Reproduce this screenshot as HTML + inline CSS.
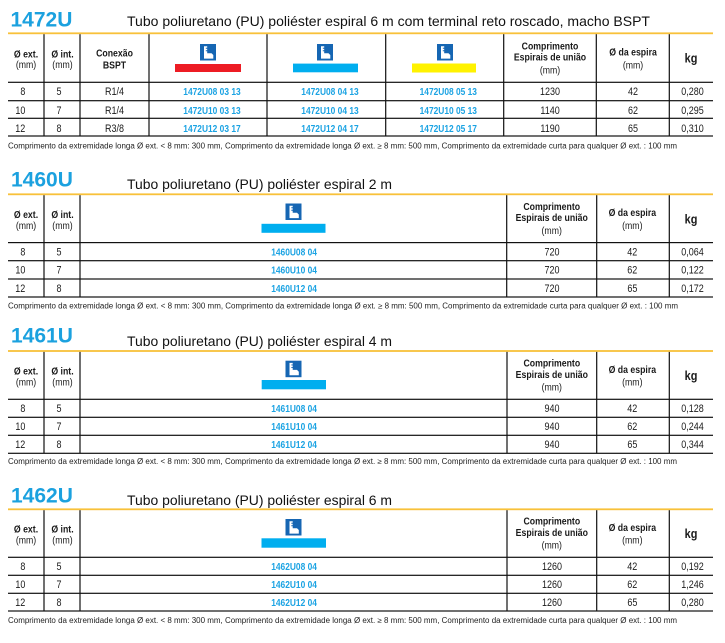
<!DOCTYPE html>
<html><head><meta charset="utf-8">
<style>
html,body{margin:0;padding:0;background:#fff;}
svg{display:block;}
text{font-family:"Liberation Sans",Arial,sans-serif;fill:#1a1a1a;}
.n{transform-box:fill-box;transform-origin:center;transform:scaleX(.84);}
.e{transform-box:fill-box;transform-origin:right center;transform:scaleX(.84);}
.hb{font-weight:bold;font-size:10.4px;text-anchor:middle;}
.hr{font-size:10.4px;text-anchor:middle;}
.kg{font-weight:bold;font-size:13px;text-anchor:middle;}
.d{font-size:10.7px;text-anchor:middle;}
.de{font-size:10.7px;text-anchor:end;}
.c{font-weight:bold;font-size:10px;text-anchor:middle;fill:#1ba3e3;}
.ti{font-weight:bold;font-size:21px;fill:#1ba1df;}
.st{font-size:14px;fill:#111;}
.fn{font-size:7.8px;fill:#222;}
</style></head><body>
<svg width="725" height="643" viewBox="0 0 725 643" xmlns="http://www.w3.org/2000/svg">
<defs>
<g id="ic">
<rect x="0" y="0" width="16" height="16.5" fill="#1666b3"/>
<path d="M4 2.2h3.2v1.6h-1.4v0.9h1.4v1.6h-1.4v0.9h1.4v2h4.3l1.8 1.8v3.6h-9.3z" fill="#fff"/>
</g>
</defs>

<!-- ============ Section 1 ============ -->
<text class="ti" x="10.5" y="26.7">1472U</text>
<text class="st" x="127" y="26" textLength="523" lengthAdjust="spacingAndGlyphs">Tubo poliuretano (PU) poliéster espiral 6 m com terminal reto roscado, macho BSPT</text>
<g transform="translate(0,33.3)">
<rect x="8" y="-0.9" width="705" height="1.8" fill="#f8c13a"/>
<rect x="8" y="48.4" width="705" height="1.2" fill="#111"/>
<rect x="8" y="66.8" width="705" height="1.2" fill="#111"/>
<rect x="8" y="84.4" width="705" height="1.2" fill="#111"/>
<rect x="8" y="102.1" width="705" height="1.2" fill="#111"/>
<rect x="43.4" y="0.9" width="1.2" height="101.8" fill="#111"/>
<rect x="79.4" y="0.9" width="1.2" height="101.8" fill="#111"/>
<rect x="148.4" y="0.9" width="1.2" height="101.8" fill="#111"/>
<rect x="266.4" y="0.9" width="1.2" height="101.8" fill="#111"/>
<rect x="385.1" y="0.9" width="1.2" height="101.8" fill="#111"/>
<rect x="503.1" y="0.9" width="1.2" height="101.8" fill="#111"/>
<rect x="595.7" y="0.9" width="1.2" height="101.8" fill="#111"/>
<rect x="668.7" y="0.9" width="1.2" height="101.8" fill="#111"/>

<text class="hb n" x="26" y="24">Ø ext.</text>
<text class="hr n" x="26" y="34.8">(mm)</text>
<text class="hb n" x="62.5" y="24">Ø int.</text>
<text class="hr n" x="62.5" y="34.8">(mm)</text>
<text class="hb n" x="114.5" y="23.4">Conexão</text>
<text class="hb n" x="114.5" y="35.4">BSPT</text>
<use href="#ic" x="200" y="10.7"/>
<rect x="175" y="30.7" width="66" height="8" fill="#ed1c24"/>
<use href="#ic" x="317" y="10.7"/>
<rect x="293" y="30.3" width="65" height="8.7" fill="#00aeef"/>
<use href="#ic" x="437" y="10.7"/>
<rect x="412" y="30.2" width="64" height="9" fill="#fff200"/>
<text class="hb n" x="550" y="16.2">Comprimento</text>
<text class="hb n" x="550" y="27.3">Espirais de união</text>
<text class="hr n" x="550" y="40.3">(mm)</text>
<text class="hb n" x="633" y="22.2">Ø da espira</text>
<text class="hr n" x="633" y="35">(mm)</text>
<text class="kg n" x="691" y="29">kg</text>

<text class="de e" x="25.3" y="61.8">8</text>
<text class="d n" x="59" y="61.8">5</text>
<text class="d n" x="114.5" y="61.8">R1/4</text>
<text class="c n" x="212" y="61.8">1472U08 03 13</text>
<text class="c n" x="330" y="61.8">1472U08 04 13</text>
<text class="c n" x="448.3" y="61.8">1472U08 05 13</text>
<text class="d n" x="550" y="61.8">1230</text>
<text class="d n" x="633" y="61.8">42</text>
<text class="d n" x="692.5" y="61.8">0,280</text>

<text class="de e" x="25.3" y="80.7">10</text>
<text class="d n" x="59" y="80.7">7</text>
<text class="d n" x="114.5" y="80.7">R1/4</text>
<text class="c n" x="212" y="80.7">1472U10 03 13</text>
<text class="c n" x="330" y="80.7">1472U10 04 13</text>
<text class="c n" x="448.3" y="80.7">1472U10 05 13</text>
<text class="d n" x="550" y="80.7">1140</text>
<text class="d n" x="633" y="80.7">62</text>
<text class="d n" x="692.5" y="80.7">0,295</text>

<text class="de e" x="25.3" y="98.5">12</text>
<text class="d n" x="59" y="98.5">8</text>
<text class="d n" x="114.5" y="98.5">R3/8</text>
<text class="c n" x="212" y="98.5">1472U12 03 17</text>
<text class="c n" x="330" y="98.5">1472U12 04 17</text>
<text class="c n" x="448.3" y="98.5">1472U12 05 17</text>
<text class="d n" x="550" y="98.5">1190</text>
<text class="d n" x="633" y="98.5">65</text>
<text class="d n" x="692.5" y="98.5">0,310</text>
</g>
<text class="fn" x="8" y="148.5" textLength="669" lengthAdjust="spacingAndGlyphs">Comprimento da extremidade longa Ø ext. &lt; 8 mm: 300 mm, Comprimento da extremidade longa Ø ext. ≥ 8 mm: 500 mm, Comprimento da extremidade curta para qualquer Ø ext. : 100 mm</text>

<!-- ============ Section 2 ============ -->
<text class="ti" x="11" y="186.7">1460U</text>
<text class="st" x="127" y="189" textLength="265" lengthAdjust="spacingAndGlyphs">Tubo poliuretano (PU) poliéster espiral 2 m</text>
<g transform="translate(0,194.3)">
<rect x="8" y="-0.9" width="705" height="1.8" fill="#f8c13a"/>
<rect x="8" y="47.7" width="705" height="1.2" fill="#111"/>
<rect x="8" y="65.8" width="705" height="1.2" fill="#111"/>
<rect x="8" y="84.1" width="705" height="1.2" fill="#111"/>
<rect x="8" y="102.1" width="705" height="1.2" fill="#111"/>
<rect x="43.4" y="0.9" width="1.2" height="101.8" fill="#111"/>
<rect x="79.4" y="0.9" width="1.2" height="101.8" fill="#111"/>
<rect x="506.1" y="0.9" width="1.2" height="101.8" fill="#111"/>
<rect x="596.1" y="0.9" width="1.2" height="101.8" fill="#111"/>
<rect x="668.7" y="0.9" width="1.2" height="101.8" fill="#111"/>
<text class="hb n" x="26" y="23.5">Ø ext.</text>
<text class="hr n" x="26" y="34.5">(mm)</text>
<text class="hb n" x="62.5" y="23.5">Ø int.</text>
<text class="hr n" x="62.5" y="34.5">(mm)</text>
<use href="#ic" x="285.5" y="9.2"/>
<rect x="261.5" y="29.5" width="64" height="9" fill="#00aeef"/>
<text class="hb n" x="551.7" y="15.6">Comprimento</text>
<text class="hb n" x="551.7" y="26.8">Espirais de união</text>
<text class="hr n" x="551.7" y="39.7">(mm)</text>
<text class="hb n" x="632.3" y="21.8">Ø da espira</text>
<text class="hr n" x="632.3" y="34.7">(mm)</text>
<text class="kg n" x="691" y="29">kg</text>

<text class="de e" x="25.3" y="61.2">8</text>
<text class="d n" x="59" y="61.2">5</text>
<text class="c n" x="294" y="61.2">1460U08 04</text>
<text class="d n" x="552" y="61.2">720</text>
<text class="d n" x="632.3" y="61.2">42</text>
<text class="d n" x="692.5" y="61.2">0,064</text>

<text class="de e" x="25.3" y="79.4">10</text>
<text class="d n" x="59" y="79.4">7</text>
<text class="c n" x="294" y="79.4">1460U10 04</text>
<text class="d n" x="552" y="79.4">720</text>
<text class="d n" x="632.3" y="79.4">62</text>
<text class="d n" x="692.5" y="79.4">0,122</text>

<text class="de e" x="25.3" y="97.5">12</text>
<text class="d n" x="59" y="97.5">8</text>
<text class="c n" x="294" y="97.5">1460U12 04</text>
<text class="d n" x="552" y="97.5">720</text>
<text class="d n" x="632.3" y="97.5">65</text>
<text class="d n" x="692.5" y="97.5">0,172</text>
</g>
<text class="fn" x="8" y="308.3" textLength="670" lengthAdjust="spacingAndGlyphs">Comprimento da extremidade longa Ø ext. &lt; 8 mm: 300 mm, Comprimento da extremidade longa Ø ext. ≥ 8 mm: 500 mm, Comprimento da extremidade curta para qualquer Ø ext.  : 100 mm</text>

<!-- ============ Section 3 ============ -->
<text class="ti" x="11" y="342.7">1461U</text>
<text class="st" x="127" y="346" textLength="265" lengthAdjust="spacingAndGlyphs">Tubo poliuretano (PU) poliéster espiral 4 m</text>
<g transform="translate(0,351)">
<rect x="8" y="-0.9" width="705" height="1.8" fill="#f8c13a"/>
<rect x="8" y="47.7" width="705" height="1.2" fill="#111"/>
<rect x="8" y="65.7" width="705" height="1.2" fill="#111"/>
<rect x="8" y="83.7" width="705" height="1.2" fill="#111"/>
<rect x="8" y="101.7" width="705" height="1.2" fill="#111"/>
<rect x="43.4" y="0.9" width="1.2" height="101.4" fill="#111"/>
<rect x="79.4" y="0.9" width="1.2" height="101.4" fill="#111"/>
<rect x="506.4" y="0.9" width="1.2" height="101.4" fill="#111"/>
<rect x="596.1" y="0.9" width="1.2" height="101.4" fill="#111"/>
<rect x="668.7" y="0.9" width="1.2" height="101.4" fill="#111"/>
<text class="hb n" x="26" y="23.5">Ø ext.</text>
<text class="hr n" x="26" y="34.5">(mm)</text>
<text class="hb n" x="62.5" y="23.5">Ø int.</text>
<text class="hr n" x="62.5" y="34.5">(mm)</text>
<use href="#ic" x="285.5" y="9.7"/>
<rect x="261.7" y="29" width="64.3" height="9.3" fill="#00aeef"/>
<text class="hb n" x="551.8" y="15.6">Comprimento</text>
<text class="hb n" x="551.8" y="26.8">Espirais de união</text>
<text class="hr n" x="551.8" y="39.7">(mm)</text>
<text class="hb n" x="632.3" y="21.8">Ø da espira</text>
<text class="hr n" x="632.3" y="34.7">(mm)</text>
<text class="kg n" x="691" y="29">kg</text>

<text class="de e" x="25.3" y="61.2">8</text>
<text class="d n" x="59" y="61.2">5</text>
<text class="c n" x="294" y="61.2">1461U08 04</text>
<text class="d n" x="552" y="61.2">940</text>
<text class="d n" x="632.3" y="61.2">42</text>
<text class="d n" x="692.5" y="61.2">0,128</text>

<text class="de e" x="25.3" y="79.2">10</text>
<text class="d n" x="59" y="79.2">7</text>
<text class="c n" x="294" y="79.2">1461U10 04</text>
<text class="d n" x="552" y="79.2">940</text>
<text class="d n" x="632.3" y="79.2">62</text>
<text class="d n" x="692.5" y="79.2">0,244</text>

<text class="de e" x="25.3" y="97.2">12</text>
<text class="d n" x="59" y="97.2">8</text>
<text class="c n" x="294" y="97.2">1461U12 04</text>
<text class="d n" x="552" y="97.2">940</text>
<text class="d n" x="632.3" y="97.2">65</text>
<text class="d n" x="692.5" y="97.2">0,344</text>
</g>
<text class="fn" x="8" y="464" textLength="669" lengthAdjust="spacingAndGlyphs">Comprimento da extremidade longa Ø ext. &lt; 8 mm: 300 mm, Comprimento da extremidade longa Ø ext. ≥ 8 mm: 500 mm, Comprimento da extremidade curta para qualquer Ø ext. : 100 mm</text>

<!-- ============ Section 4 ============ -->
<text class="ti" x="11" y="502.7">1462U</text>
<text class="st" x="127" y="505" textLength="265" lengthAdjust="spacingAndGlyphs">Tubo poliuretano (PU) poliéster espiral 6 m</text>
<g transform="translate(0,509.3)">
<rect x="8" y="-0.9" width="705" height="1.8" fill="#f8c13a"/>
<rect x="8" y="47.4" width="705" height="1.2" fill="#111"/>
<rect x="8" y="65.4" width="705" height="1.2" fill="#111"/>
<rect x="8" y="83.4" width="705" height="1.2" fill="#111"/>
<rect x="8" y="101.1" width="705" height="1.2" fill="#111"/>
<rect x="43.4" y="0.9" width="1.2" height="100.8" fill="#111"/>
<rect x="79.4" y="0.9" width="1.2" height="100.8" fill="#111"/>
<rect x="506.4" y="0.9" width="1.2" height="100.8" fill="#111"/>
<rect x="596.1" y="0.9" width="1.2" height="100.8" fill="#111"/>
<rect x="668.7" y="0.9" width="1.2" height="100.8" fill="#111"/>
<text class="hb n" x="26" y="23">Ø ext.</text>
<text class="hr n" x="26" y="34">(mm)</text>
<text class="hb n" x="62.5" y="23">Ø int.</text>
<text class="hr n" x="62.5" y="34">(mm)</text>
<use href="#ic" x="285.5" y="9.7"/>
<rect x="261.5" y="29" width="64.5" height="9.4" fill="#00aeef"/>
<text class="hb n" x="551.8" y="15.3">Comprimento</text>
<text class="hb n" x="551.8" y="26.5">Espirais de união</text>
<text class="hr n" x="551.8" y="39.4">(mm)</text>
<text class="hb n" x="632.3" y="21.5">Ø da espira</text>
<text class="hr n" x="632.3" y="34.4">(mm)</text>
<text class="kg n" x="691" y="28.7">kg</text>

<text class="de e" x="25.3" y="60.9">8</text>
<text class="d n" x="59" y="60.9">5</text>
<text class="c n" x="294" y="60.9">1462U08 04</text>
<text class="d n" x="552" y="60.9">1260</text>
<text class="d n" x="632.3" y="60.9">42</text>
<text class="d n" x="692.5" y="60.9">0,192</text>

<text class="de e" x="25.3" y="78.9">10</text>
<text class="d n" x="59" y="78.9">7</text>
<text class="c n" x="294" y="78.9">1462U10 04</text>
<text class="d n" x="552" y="78.9">1260</text>
<text class="d n" x="632.3" y="78.9">62</text>
<text class="d n" x="692.5" y="78.9">1,246</text>

<text class="de e" x="25.3" y="96.7">12</text>
<text class="d n" x="59" y="96.7">8</text>
<text class="c n" x="294" y="96.7">1462U12 04</text>
<text class="d n" x="552" y="96.7">1260</text>
<text class="d n" x="632.3" y="96.7">65</text>
<text class="d n" x="692.5" y="96.7">0,280</text>
</g>
<text class="fn" x="8" y="623" textLength="669" lengthAdjust="spacingAndGlyphs">Comprimento da extremidade longa Ø ext. &lt; 8 mm: 300 mm, Comprimento da extremidade longa Ø ext. ≥ 8 mm: 500 mm, Comprimento da extremidade curta para qualquer Ø ext. : 100 mm</text>
</svg>
</body></html>
